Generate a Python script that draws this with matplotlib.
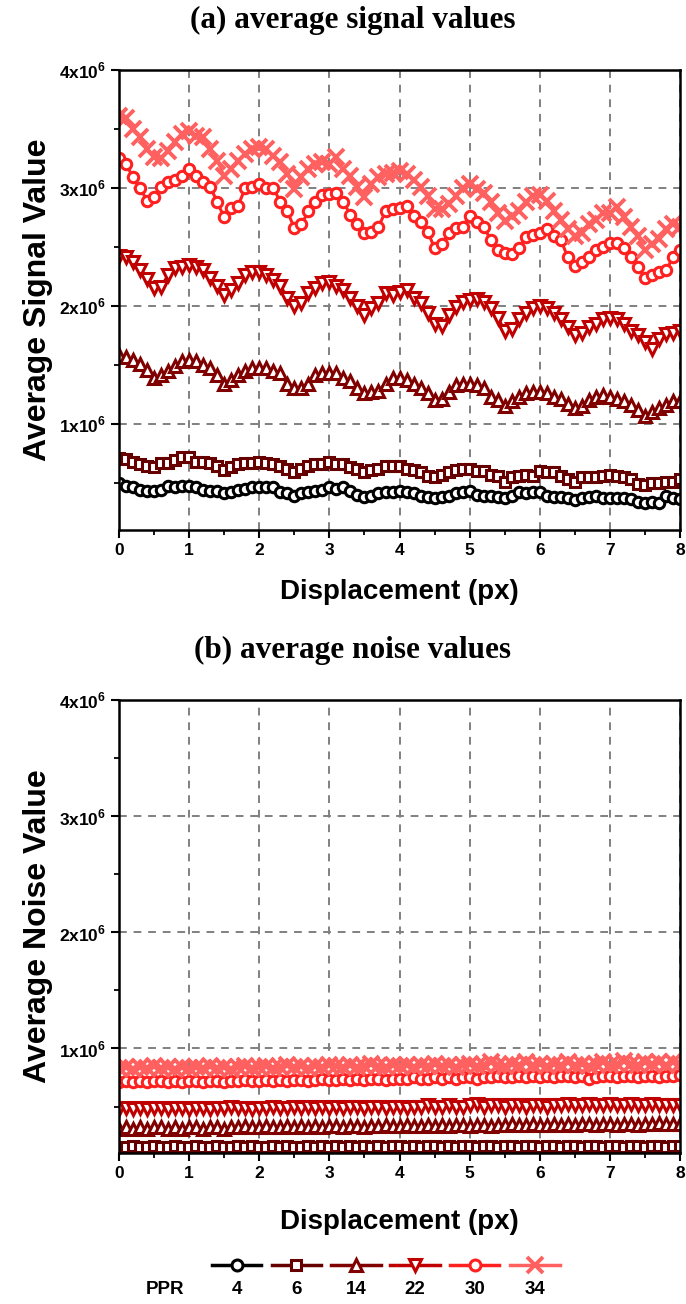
"""Average signal / noise values vs displacement for several PPR settings."""
import matplotlib
matplotlib.use("Agg")
import matplotlib.pyplot as plt
from matplotlib.lines import Line2D
from matplotlib.ticker import MultipleLocator, FixedLocator
import numpy as np

plt.rcParams["font.family"] = ["Liberation Sans", "DejaVu Sans"]
plt.rcParams["mathtext.fontset"] = "custom"
plt.rcParams["mathtext.rm"] = "Liberation Sans"
plt.rcParams["mathtext.bf"] = "Liberation Sans:bold"

SCALE = 1e6
DISP = np.round(np.arange(81) * 0.1, 1)   # 0.0 .. 8.0 px, step 0.1

PPR = ["4", "6", "14", "22", "30", "34"]
COLORS = ["#000000", "#660000", "#800000", "#C00000", "#FF2020", "#FF6060"]
MARKERS = ["o", "s", "^", "v", "o", "x"]

# (a) average signal values, in units of 1e6
SIG_4 = [0.50, 0.47, 0.46, 0.44, 0.43, 0.43, 0.44, 0.47, 0.46, 0.47, 0.47,
         0.46, 0.44, 0.43, 0.43, 0.41, 0.42, 0.44, 0.45, 0.46, 0.46,
         0.46, 0.46, 0.42, 0.41, 0.39, 0.41, 0.42, 0.43, 0.44, 0.46,
         0.45, 0.46, 0.43, 0.40, 0.38, 0.39, 0.41, 0.42, 0.42, 0.43,
         0.42, 0.41, 0.39, 0.38, 0.37, 0.38, 0.39, 0.41, 0.42, 0.43,
         0.40, 0.39, 0.39, 0.38, 0.37, 0.39, 0.42, 0.41, 0.42, 0.42,
         0.39, 0.38, 0.38, 0.37, 0.35, 0.37, 0.38, 0.39, 0.37, 0.37,
         0.37, 0.37, 0.36, 0.34, 0.33, 0.34, 0.33, 0.39, 0.37, 0.36]
SIG_6 = [0.71, 0.70, 0.68, 0.66, 0.64, 0.63, 0.67, 0.67, 0.69, 0.72, 0.72,
         0.68, 0.68, 0.67, 0.64, 0.61, 0.63, 0.66, 0.67, 0.67, 0.68,
         0.67, 0.66, 0.64, 0.62, 0.59, 0.62, 0.64, 0.66, 0.66, 0.68,
         0.66, 0.66, 0.63, 0.62, 0.59, 0.61, 0.62, 0.64, 0.64, 0.64,
         0.62, 0.61, 0.59, 0.56, 0.55, 0.57, 0.59, 0.61, 0.62, 0.62,
         0.60, 0.60, 0.57, 0.56, 0.51, 0.55, 0.56, 0.57, 0.56, 0.60,
         0.59, 0.59, 0.56, 0.53, 0.51, 0.55, 0.55, 0.55, 0.56, 0.57,
         0.56, 0.55, 0.53, 0.49, 0.48, 0.50, 0.50, 0.51, 0.51, 0.53]
SIG_14 = [1.58, 1.57, 1.54, 1.51, 1.46, 1.39, 1.41, 1.45, 1.49, 1.53, 1.54,
          1.53, 1.50, 1.47, 1.41, 1.34, 1.37, 1.41, 1.45, 1.47, 1.47,
          1.47, 1.45, 1.43, 1.34, 1.30, 1.30, 1.34, 1.41, 1.43, 1.43,
          1.43, 1.39, 1.36, 1.30, 1.26, 1.27, 1.28, 1.34, 1.39, 1.39,
          1.37, 1.34, 1.30, 1.26, 1.20, 1.21, 1.27, 1.33, 1.34, 1.34,
          1.33, 1.30, 1.23, 1.20, 1.15, 1.19, 1.23, 1.26, 1.27, 1.27,
          1.26, 1.23, 1.21, 1.17, 1.13, 1.15, 1.20, 1.23, 1.24, 1.23,
          1.21, 1.19, 1.16, 1.12, 1.07, 1.10, 1.13, 1.16, 1.19, 1.19]
SIG_22 = [2.42, 2.41, 2.37, 2.30, 2.23, 2.15, 2.16, 2.26, 2.32, 2.33, 2.35,
          2.33, 2.30, 2.24, 2.17, 2.09, 2.13, 2.19, 2.26, 2.29, 2.29,
          2.26, 2.22, 2.17, 2.07, 2.00, 2.02, 2.11, 2.15, 2.19, 2.20,
          2.17, 2.13, 2.07, 2.00, 1.92, 1.98, 2.02, 2.11, 2.09, 2.12,
          2.13, 2.07, 2.02, 1.94, 1.85, 1.83, 1.92, 1.99, 2.03, 2.05,
          2.06, 2.03, 1.98, 1.90, 1.79, 1.80, 1.89, 1.94, 1.98, 2.00,
          1.98, 1.94, 1.89, 1.82, 1.75, 1.77, 1.82, 1.85, 1.89, 1.90,
          1.89, 1.85, 1.79, 1.75, 1.69, 1.63, 1.72, 1.76, 1.77, 1.79]
SIG_30 = [3.25, 3.20, 3.09, 3.00, 2.89, 2.92, 3.01, 3.05, 3.07, 3.10, 3.16,
          3.10, 3.05, 3.01, 2.88, 2.75, 2.83, 2.85, 3.00, 3.01, 3.03,
          3.00, 3.00, 2.88, 2.80, 2.66, 2.69, 2.80, 2.88, 2.94, 2.95,
          2.96, 2.88, 2.77, 2.69, 2.62, 2.63, 2.67, 2.80, 2.82, 2.83,
          2.85, 2.76, 2.71, 2.63, 2.49, 2.52, 2.62, 2.66, 2.67, 2.76,
          2.71, 2.67, 2.56, 2.47, 2.45, 2.44, 2.49, 2.58, 2.60, 2.62,
          2.65, 2.59, 2.56, 2.41, 2.34, 2.37, 2.41, 2.47, 2.50, 2.53,
          2.53, 2.49, 2.41, 2.33, 2.24, 2.26, 2.29, 2.30, 2.41, 2.47]
SIG_34 = [3.61, 3.59, 3.50, 3.43, 3.33, 3.26, 3.25, 3.31, 3.39, 3.46, 3.48,
          3.44, 3.43, 3.33, 3.23, 3.10, 3.16, 3.23, 3.29, 3.33, 3.35,
          3.33, 3.27, 3.22, 3.12, 2.99, 3.09, 3.16, 3.20, 3.22, 3.20,
          3.26, 3.16, 3.10, 3.01, 2.92, 3.03, 3.09, 3.12, 3.13, 3.14,
          3.12, 3.07, 3.01, 2.93, 2.82, 2.82, 2.86, 2.93, 3.00, 3.03,
          2.99, 2.96, 2.88, 2.79, 2.72, 2.76, 2.80, 2.88, 2.93, 2.94,
          2.89, 2.80, 2.73, 2.65, 2.59, 2.62, 2.69, 2.73, 2.79, 2.79,
          2.84, 2.75, 2.67, 2.59, 2.47, 2.52, 2.57, 2.65, 2.69, 2.67]

# (b) average noise values, in units of 1e6
NOI_4 = [0.05, 0.05, 0.06, 0.05, 0.05, 0.06, 0.05, 0.05, 0.06, 0.05, 0.05,
         0.06, 0.05, 0.05, 0.06, 0.05, 0.05, 0.06, 0.05, 0.06, 0.05,
         0.05, 0.06, 0.05, 0.05, 0.06, 0.05, 0.05, 0.06, 0.05, 0.06,
         0.05, 0.05, 0.06, 0.05, 0.06, 0.05, 0.05, 0.06, 0.05, 0.05,
         0.06, 0.05, 0.06, 0.05, 0.05, 0.06, 0.05, 0.06, 0.05, 0.05,
         0.06, 0.05, 0.06, 0.05, 0.06, 0.05, 0.05, 0.06, 0.05, 0.06,
         0.05, 0.06, 0.05, 0.06, 0.05, 0.05, 0.06, 0.05, 0.06, 0.05,
         0.06, 0.05, 0.06, 0.05, 0.06, 0.05, 0.06, 0.05, 0.06, 0.05]
NOI_6 = [0.15, 0.15, 0.16, 0.15, 0.15, 0.16, 0.15, 0.15, 0.16, 0.15, 0.15,
         0.16, 0.15, 0.15, 0.16, 0.15, 0.15, 0.16, 0.15, 0.16, 0.15,
         0.15, 0.16, 0.15, 0.16, 0.15, 0.15, 0.16, 0.15, 0.16, 0.15,
         0.16, 0.15, 0.16, 0.15, 0.16, 0.15, 0.16, 0.15, 0.16, 0.16,
         0.15, 0.16, 0.15, 0.16, 0.16, 0.15, 0.16, 0.15, 0.16, 0.16,
         0.15, 0.16, 0.16, 0.15, 0.16, 0.16, 0.15, 0.16, 0.16, 0.15,
         0.16, 0.16, 0.15, 0.16, 0.16, 0.15, 0.16, 0.16, 0.15, 0.16,
         0.16, 0.15, 0.16, 0.16, 0.15, 0.16, 0.16, 0.15, 0.16, 0.16]
NOI_14 = [0.31, 0.32, 0.31, 0.32, 0.31, 0.32, 0.32, 0.31, 0.32, 0.31, 0.32,
          0.32, 0.31, 0.32, 0.32, 0.31, 0.32, 0.32, 0.33, 0.32, 0.32,
          0.33, 0.32, 0.32, 0.33, 0.32, 0.33, 0.32, 0.33, 0.32, 0.33,
          0.33, 0.32, 0.33, 0.33, 0.32, 0.33, 0.33, 0.34, 0.33, 0.33,
          0.34, 0.33, 0.33, 0.34, 0.33, 0.34, 0.33, 0.34, 0.34, 0.33,
          0.34, 0.34, 0.33, 0.34, 0.34, 0.35, 0.34, 0.34, 0.35, 0.34,
          0.34, 0.35, 0.34, 0.35, 0.34, 0.35, 0.35, 0.34, 0.35, 0.35,
          0.34, 0.35, 0.35, 0.34, 0.35, 0.35, 0.36, 0.35, 0.35, 0.35]
NOI_22 = [0.48, 0.49, 0.48, 0.49, 0.48, 0.49, 0.49, 0.48, 0.49, 0.49, 0.48,
          0.49, 0.49, 0.48, 0.49, 0.49, 0.50, 0.49, 0.49, 0.48, 0.49,
          0.49, 0.50, 0.49, 0.49, 0.50, 0.49, 0.50, 0.49, 0.50, 0.49,
          0.50, 0.49, 0.50, 0.50, 0.49, 0.50, 0.50, 0.49, 0.50, 0.50,
          0.49, 0.50, 0.50, 0.51, 0.50, 0.50, 0.51, 0.50, 0.50, 0.51,
          0.52, 0.50, 0.51, 0.51, 0.50, 0.51, 0.51, 0.50, 0.51, 0.51,
          0.50, 0.51, 0.51, 0.52, 0.51, 0.51, 0.52, 0.51, 0.51, 0.52,
          0.51, 0.51, 0.52, 0.51, 0.51, 0.52, 0.51, 0.51, 0.51, 0.51]
NOI_30 = [0.71, 0.72, 0.71, 0.72, 0.71, 0.72, 0.72, 0.71, 0.72, 0.71, 0.72,
          0.72, 0.71, 0.72, 0.72, 0.71, 0.72, 0.72, 0.73, 0.72, 0.72,
          0.73, 0.72, 0.73, 0.72, 0.73, 0.73, 0.72, 0.73, 0.74, 0.73,
          0.73, 0.74, 0.73, 0.74, 0.73, 0.74, 0.74, 0.73, 0.74, 0.74,
          0.74, 0.75, 0.74, 0.74, 0.75, 0.74, 0.75, 0.74, 0.75, 0.75,
          0.74, 0.75, 0.75, 0.76, 0.75, 0.75, 0.76, 0.75, 0.76, 0.75,
          0.76, 0.75, 0.76, 0.76, 0.75, 0.76, 0.74, 0.75, 0.76, 0.76,
          0.75, 0.76, 0.76, 0.75, 0.76, 0.76, 0.75, 0.76, 0.76, 0.77]
NOI_34 = [0.83, 0.84, 0.82, 0.84, 0.83, 0.85, 0.83, 0.84, 0.82, 0.84, 0.83,
          0.84, 0.83, 0.85, 0.83, 0.84, 0.82, 0.84, 0.85, 0.83, 0.84,
          0.85, 0.83, 0.84, 0.86, 0.84, 0.85, 0.83, 0.85, 0.84, 0.86,
          0.85, 0.84, 0.86, 0.84, 0.85, 0.87, 0.85, 0.84, 0.86, 0.85,
          0.86, 0.84, 0.86, 0.85, 0.87, 0.85, 0.86, 0.84, 0.86, 0.87,
          0.85, 0.86, 0.88, 0.86, 0.85, 0.87, 0.86, 0.88, 0.86, 0.87,
          0.85, 0.87, 0.86, 0.88, 0.86, 0.87, 0.85, 0.87, 0.88, 0.86,
          0.87, 0.89, 0.87, 0.86, 0.88, 0.87, 0.88, 0.86, 0.88, 0.87]

SIGNAL = [SIG_4, SIG_6, SIG_14, SIG_22, SIG_30, SIG_34]
NOISE = [NOI_4, NOI_6, NOI_14, NOI_22, NOI_30, NOI_34]


def style_marker(m):
    if m == "x":
        return dict(marker="x", markersize=11, markeredgewidth=2.8)
    if m in ("^", "v"):
        return dict(marker=m, markersize=8.5, markeredgewidth=2.2, markerfacecolor="white")
    if m == "s":
        return dict(marker="s", markersize=7, markeredgewidth=2.2, markerfacecolor="white")
    return dict(marker="o", markersize=7.5, markeredgewidth=2.2, markerfacecolor="white")


def setup(ax, title, ylabel, xpad):
    ax.set_xlim(0, 8)
    ax.set_ylim(0.1 * SCALE, 4 * SCALE)
    ax.xaxis.set_major_locator(MultipleLocator(1))
    ax.xaxis.set_minor_locator(MultipleLocator(0.5))
    ax.yaxis.set_major_locator(FixedLocator([1e6, 2e6, 3e6, 4e6]))
    ax.yaxis.set_minor_locator(FixedLocator([0.5e6, 1.5e6, 2.5e6, 3.5e6]))
    ax.set_yticklabels([r"%dx10$^{\mathbf{6}}$" % k for k in (1, 2, 3, 4)])
    ax.grid(True, which="major", color="#808080", linestyle=(0, (4, 3.5)), linewidth=1.4)
    ax.set_axisbelow(True)
    ax.tick_params(which="major", direction="out", length=6, width=1.5, labelsize=12.5)
    ax.tick_params(which="minor", direction="out", length=3.5, width=1.3)
    for lab in ax.get_xticklabels() + ax.get_yticklabels():
        lab.set_fontweight("bold")
    for s in ax.spines.values():
        s.set_linewidth(1.8)
    ax.set_xlabel("Displacement (px)", fontsize=20, fontweight="bold", labelpad=xpad)
    ax.set_ylabel(ylabel, fontsize=23, fontweight="bold", labelpad=4)
    ax.set_title(title, fontsize=22.5, fontweight="bold", family="Liberation Serif",
                 x=0.417, pad=30)


fig = plt.figure(figsize=(6.86, 13.04), dpi=100)
ax1 = fig.add_axes([0.1735, 0.5936, 0.8178, 0.3528])
ax2 = fig.add_axes([0.1735, 0.1158, 0.8178, 0.3474])

for ax, data in ((ax1, SIGNAL), (ax2, NOISE)):
    for vals, c, m, lab in zip(data, COLORS, MARKERS, PPR):
        ax.plot(DISP, np.array(vals) * SCALE, color=c, linewidth=2.2, label=lab,
                **style_marker(m))

setup(ax1, "(a) average signal values", "Average Signal Value", 15)
setup(ax2, "(b) average noise values", "Average Noise Value", 20)

# legend row: handle on top, PPR value below
xs = [0.345, 0.432, 0.519, 0.605, 0.692, 0.780]
for x, c, m, lab in zip(xs, COLORS, MARKERS, PPR):
    fig.add_artist(Line2D([x - 0.036, x + 0.036], [0.030, 0.030], transform=fig.transFigure,
                          color=c, linewidth=2.5))
    st = style_marker(m)
    st["markersize"] = st["markersize"] * 1.05
    fig.add_artist(Line2D([x], [0.030], transform=fig.transFigure, color=c, **st))
    fig.text(x, 0.011, lab, ha="center", va="center", fontsize=13.5, fontweight="bold")
fig.text(0.24, 0.011, "PPR", ha="center", va="center", fontsize=13.5, fontweight="bold")

fig.savefig("out.png", dpi=100)
